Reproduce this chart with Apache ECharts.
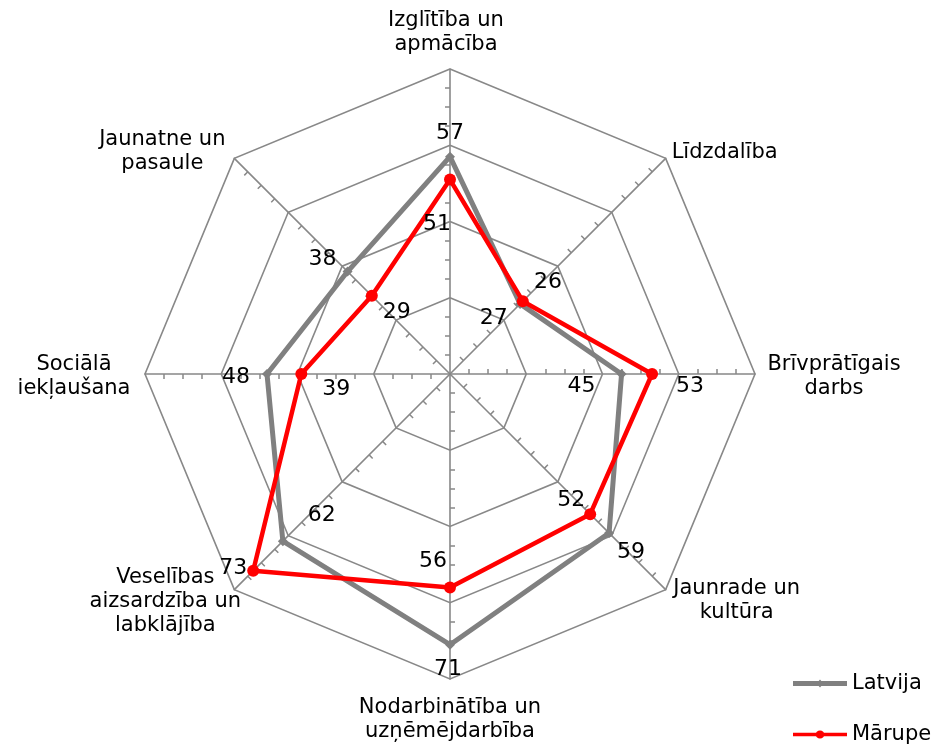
<!DOCTYPE html>
<html><head><meta charset="utf-8">
<script src="https://cdn.jsdelivr.net/npm/echarts@6/dist/echarts.min.js"></script>
<style>html,body{margin:0;padding:0;background:#fff}#c{width:933px;height:744px}</style>
</head><body><div id="c"></div>
<script>
// ---- data (clockwise from top) ----
const categories = [
  'Izglītība un\napmācība',
  'Līdzdalība',
  'Brīvprātīgais\ndarbs',
  'Jaunrade un\nkultūra',
  'Nodarbinātība un\nuzņēmējdarbība',
  'Veselības\naizsardzība un\nlabklājība',
  'Sociālā\niekļaušana',
  'Jaunatne un\npasaule'
];
const latvija = [57, 26, 45, 59, 71, 62, 48, 38];
const marupe  = [51, 27, 53, 52, 56, 73, 39, 29];
const seriesNames = ['Latvija', 'Mārupe'];
const axisMax = 80;
const axisSplits = 4;

// ---- styling (label offsets relative to computed points) ----
const nameStyle = [
  {dx: -4, dy: -36.5, align: 'center'},
  {dx: 6, dy: -6, align: 'left'},
  {dx: 79, dy: 3, align: 'center'},
  {dx: 71, dy: 11, align: 'center'},
  {dx: 0, dy: 40.5, align: 'center'},
  {dx: -69, dy: 12, align: 'center'},
  {dx: -71, dy: 3, align: 'center'},
  {dx: -72, dy: -7, align: 'center'}
];
const labelOffsets = [
  [[0,-23],[28,-22],[-40,12],[22,19],[-2,25],[39,-26],[-31,3],[-25,-12]],
  [[-13,45],[-29,17],[38,12],[-19,-14],[-17,-26],[-20,-3],[35,15],[25,16]]
];
const legendTops = [673, 724];
const colors = ['#808080', '#ff0000'];
const legendIcons = [
  'path://M0,4 L54,4 L54,8.5 L0,8.5 Z M27,2.5 L30.5,6.2 L27,10 L23.5,6.2 Z',
  'path://M0,4.2 L54,4.2 L54,8 L0,8 Z M22.5,6.1 A4.5,4.5 0 1,1 31.5,6.1 A4.5,4.5 0 1,1 22.5,6.1 Z'
];
const FONT = 'DejaVu Sans, Verdana, sans-serif';
const NAME_SIZE = 21;

// ECharts radar lays indicators counter-clockwise; reorder so they appear clockwise
const n = categories.length;
const ecIdx = k => (n - k) % n;           // clockwise index -> echarts index
const cwIdx = j => (n - j) % n;           // echarts index -> clockwise index
const toEc = arr => arr.map((_, j) => arr[cwIdx(j)]);

const chart = echarts.init(document.getElementById('c'), null, {renderer: 'canvas'});

const indicator = categories.map((_, j) => ({
  name: categories[cwIdx(j)],
  min: 0,
  max: axisMax,
  minorTick: {show: true, splitNumber: 4, length: 5, lineStyle: {color: '#888888', width: 1.5}}
}));

const legends = seriesNames.map((nm, i) => ({
  orient: 'vertical',
  left: 793,
  top: legendTops[i],
  padding: 0,
  itemWidth: 54,
  itemHeight: 8,
  symbolKeepAspect: false,
  textStyle: {fontSize: NAME_SIZE, color: '#000', fontFamily: FONT},
  data: [{name: nm, icon: legendIcons[i], itemStyle: {color: colors[i]}}]
}));

chart.setOption({
  animation: false,
  backgroundColor: '#ffffff',
  textStyle: {fontFamily: FONT},
  legend: legends,
  radar: {
    center: [450, 374],
    radius: 305,
    startAngle: 90,
    shape: 'polygon',
    splitNumber: axisSplits,
    indicator: indicator,
    axisName: {show: false},
    axisLine: {lineStyle: {color: '#888888', width: 1.6}},
    axisTick: {show: false},
    axisLabel: {show: false},
    splitLine: {lineStyle: {color: '#888888', width: 1.6}},
    splitArea: {show: false}
  },
  series: [{
    type: 'radar',
    data: [
      {
        name: seriesNames[0], value: toEc(latvija),
        symbol: 'diamond', symbolSize: 10,
        lineStyle: {color: colors[0], width: 5},
        itemStyle: {color: colors[0]}
      },
      {
        name: seriesNames[1], value: toEc(marupe),
        symbol: 'circle', symbolSize: 12,
        lineStyle: {color: colors[1], width: 4.5},
        itemStyle: {color: colors[1]}
      }
    ]
  }]
});

// place axis names and value labels using the radar coordinate system
function pointOf(value, k) {
  let rc = null;
  try { rc = chart.getModel().getComponent('radar').coordinateSystem; } catch (e) {}
  if (rc && rc.dataToPoint) return rc.dataToPoint(value, ecIdx(k));
  const a = Math.PI / 2 - 2 * Math.PI * k / n;
  const r = 305 * value / axisMax;
  return [450 + r * Math.cos(a), 374 - r * Math.sin(a)];
}

const graphics = [];
categories.forEach((name, k) => {
  const p = pointOf(axisMax, k);
  const s = nameStyle[k];
  graphics.push({
    type: 'text', x: p[0] + s.dx, y: p[1] + s.dy,
    style: {text: name, font: NAME_SIZE + 'px ' + FONT, fill: '#000', align: s.align, verticalAlign: 'middle', lineHeight: 24}
  });
});
[latvija, marupe].forEach((vals, si) => {
  vals.forEach((v, k) => {
    const p = pointOf(v, k);
    const o = labelOffsets[si][k];
    graphics.push({
      type: 'text', x: p[0] + o[0], y: p[1] + o[1], z: 10,
      style: {text: String(v), font: '22px ' + FONT, fill: '#000', align: 'center', verticalAlign: 'middle'}
    });
  });
});
chart.setOption({graphic: graphics});
</script>
</body></html>
